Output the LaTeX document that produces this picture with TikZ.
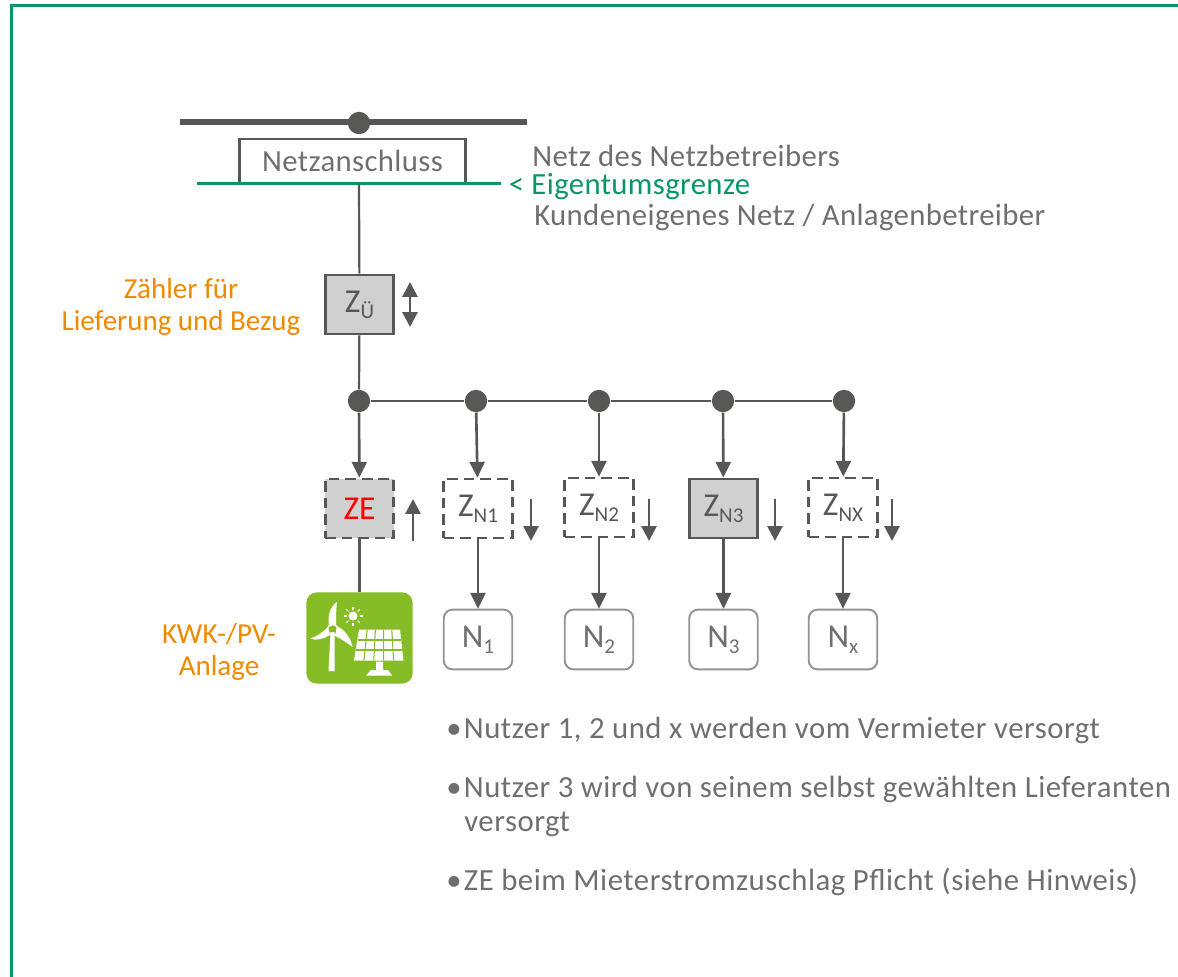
\documentclass[tikz,border=0pt]{standalone}
\usepackage{fontspec}
\setmainfont{Carlito}
\usetikzlibrary{arrows.meta}
\definecolor{darkline}{HTML}{575756}
\definecolor{textgray}{HTML}{6F6F6E}
\definecolor{framegreen}{HTML}{0A9564}
\definecolor{labelorange}{HTML}{EF8A00}
\definecolor{boxfill}{HTML}{D0D0D0}
\definecolor{iconfill}{HTML}{86BC25}
\newfontfamily\spaced[LetterSpace=1.2]{Carlito}
\newfontfamily\notefont[LetterSpace=1.7]{Carlito}
\newcommand{\lowtext}[1]{\raisebox{-3.5pt}{\fontsize{12}{12}\selectfont #1}}
\tikzset{
  conn/.style={darkline, line width=1.25pt},
  connarrow/.style={conn, line width=1.5pt, -{Triangle[length=9pt,width=8.5pt]}},
  small/.style={conn, line width=1.6pt, -{Triangle[length=8.5pt,width=8.5pt]}},
  dot/.style={circle, fill=darkline, inner sep=0pt, minimum size=12.7pt},
  meter/.style={draw=darkline, line width=1.6pt, minimum width=39pt, minimum height=33.5pt, inner sep=0pt, text=darkline, font=\fontsize{19}{20}\selectfont},
  dashedmeter/.style={meter, dashed, dash pattern=on 6pt off 3.4pt},
  load/.style={draw=textgray!75, line width=1.1pt, rounded corners=5pt, minimum width=39pt, minimum height=34pt, inner sep=0pt, text=textgray, font=\fontsize{19}{20}\selectfont},
  txt/.style={anchor=west, inner sep=0pt, text=textgray, font=\spaced\fontsize{17.5}{18}\selectfont},
  notetxt/.style={txt, font=\notefont\fontsize{17.5}{18}\selectfont},
  orangetxt/.style={align=center, inner sep=0pt, text=labelorange, font=\fontsize{16.5}{18.5}\selectfont}
}
\begin{document}
\begin{tikzpicture}[x=0.02cm, y=-0.02cm]
\useasboundingbox (0,0) rectangle (1178,977);

%frame
\draw[framegreen, line width=1.8pt] (11.7,977)--(11.7,5.3)--(1178,5.3);

%grid connection
\draw[darkline, line width=3.2pt] (180,122)--(527,122);
\node[dot] (griddot) at (359,123) {};
\node[draw=darkline, line width=1.3pt, minimum width=128.5pt, minimum height=25pt, inner sep=0pt, text=textgray, font=\spaced\fontsize{17.5}{18}\selectfont] (netz) at (352.5,161) {Netzanschluss};
\draw[framegreen, line width=2.2pt] (197,183.5)--(501,183.5);
\coordinate (limit) at (359,183.5);

\node[txt] (t1) at (532,155.5) {Netz des Netzbetreibers};
\node[txt, text=framegreen] (t2) at (508.5,186.5) {< Eigentumsgrenze};
\node[txt] (t3) at (534,217) {Kundeneigenes Netz / Anlagenbetreiber};

%meters
\node[meter, fill=boxfill] (zu) at (359.5,304.5) {Z\lowtext{Ü}};
\node[orangetxt] (zulabel) at (181,307) {Zähler für\\Lieferung und Bezug};
\draw[conn] (limit)--(zu);

\node[dot] (d0) at (359,401) {};
\node[dot] (d1) at (476,401) {};
\node[dot] (d2) at (599,401) {};
\node[dot] (d3) at (723,401) {};
\node[dot] (d4) at (844,401) {};
\draw[conn] (zu)--(d0);
\draw[conn] (d0)--(d1)--(d2)--(d3)--(d4);

\node[dashedmeter, fill=boxfill, text=red] (ze) at (359.5,508.5) {ZE};
\node[dashedmeter] (zn1) at (478,508.5) {Z\lowtext{N1}};
\node[dashedmeter] (zn2) at (599,507.5) {Z\lowtext{N2}};
\node[meter, fill=boxfill] (zn3) at (723.5,508.5) {Z\lowtext{N3}};
\node[dashedmeter] (znx) at (843,507.5) {Z\lowtext{NX}};

\draw[connarrow] (d0)--(ze);
\draw[connarrow] (d1)--(zn1);
\draw[connarrow] (d2)--(zn2);
\draw[connarrow] (d3)--(zn3);
\draw[connarrow] (d4)--(znx);

%direction arrows
\coordinate (upa) at (410,304);
\draw[small] (upa)--(410,282);
\draw[small] (upa)--(410,327);
\draw[small] (413,541)--(413,499);
\draw[small] (531,499)--(531,541);
\draw[small] (649,499)--(649,541);
\draw[small] (775,499)--(775,541);
\draw[small] (892,499)--(892,541);

%users
\node[load] (n1) at (478,639.5) {N\lowtext{1}};
\node[load] (n2) at (599,639.5) {N\lowtext{2}};
\node[load] (n3) at (723.5,639.5) {N\lowtext{3}};
\node[load] (nx) at (843,639.5) {N\lowtext{x}};
\draw[connarrow] (zn1)--(n1);
\draw[connarrow] (zn2)--(n2);
\draw[connarrow] (zn3)--(n3);
\draw[connarrow] (znx)--(nx);

%plant
\node[fill=iconfill, rounded corners=6pt, minimum width=60.5pt, minimum height=52pt, inner sep=0pt] (plant) at (359.5,638) {};
\draw[conn] (ze)--(plant);
\node[orangetxt] (plantlabel) at (219,652) {KWK-/PV-\\Anlage};

%wind turbine
\fill[white] (328.5,671)--(330.5,632)--(334.5,632)--(334.5,671)--cycle;
\fill[white] (329,625) .. controls (327,615) and (331,606) .. (337,602) .. controls (336,612) and (336,618) .. (336,625)--cycle;
\fill[white] (328,627) .. controls (322,633) and (316,637) .. (310,638.5) .. controls (316,641) and (324,639) .. (330,635)--cycle;
\fill[white] (337,626) .. controls (345,630) and (351,638) .. (352.5,647) .. controls (346,642) and (340,638) .. (335,636)--cycle;
\draw[white, line width=0.8pt] (332.7,630) circle (5.5);

%sun
\fill[white] (353,616) circle (4.5);
\foreach \a in {0,45,...,315}
  \draw[white, line width=0.6pt] (353,616)++(\a:6.5)--++(\a:3);

%solar panel
\fill[white] (359,629.5)--(400,629.5)--(403.5,660.5)--(354,660.5)--cycle;
\foreach \t in {0.2,0.4,0.6,0.8}
  \draw[iconfill, line width=0.6pt] ({359+41*\t},629.5)--({354+49.5*\t},660.5);
\draw[iconfill, line width=0.6pt] (357.5,640)--(401,640);
\draw[iconfill, line width=0.6pt] (356,650)--(402.5,650);
\fill[white] (376,661.5)--(383,661.5)--(383,670)--(388,670)--(392,675.5)--(366,675.5)--(371,670)--(376,670)--cycle;

%notes
\node[notetxt] (b1) at (446,730) {•\hspace{1.3pt}Nutzer 1, 2 und x werden vom Vermieter versorgt};
\node[notetxt] (b2) at (446,789) {•\hspace{1.3pt}Nutzer 3 wird von seinem selbst gewählten Lieferanten};
\node[notetxt] (b2b) at (464,824) {versorgt};
\node[notetxt] (b3) at (446,882) {•\hspace{1.3pt}ZE beim Mieterstromzuschlag Pflicht (siehe Hinweis)};
\end{tikzpicture}
\end{document}
